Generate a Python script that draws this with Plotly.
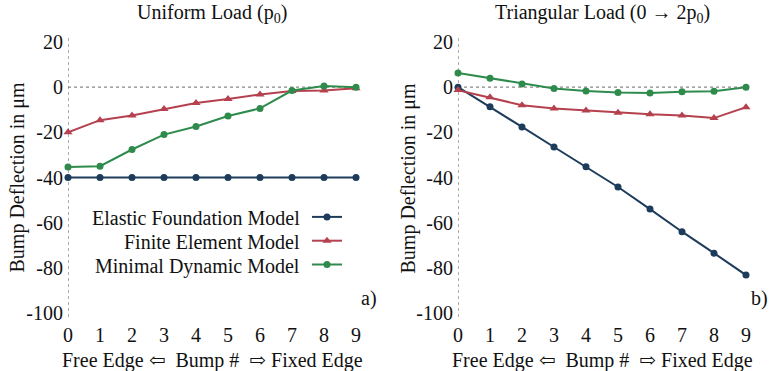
import plotly.graph_objects as go

bumps = [0, 1, 2, 3, 4, 5, 6, 7, 8, 9]

# Panel a) Uniform load
uni_efm = [-40, -40, -40, -40, -40, -40, -40, -40, -40, -40]
uni_fem = [-20, -14.6, -12.5, -9.7, -7, -5.2, -3.2, -1.7, -1.5, -0.5]
uni_mdm = [-35.3, -35, -27.6, -21, -17.4, -12.8, -9.4, -1.5, 0.5, 0]

# Panel b) Triangular load
tri_efm = [0, -8.7, -17.6, -26.5, -35.2, -44.2, -54, -64, -73.5, -83.2]
tri_fem = [-1.3, -4.5, -8, -9.4, -10.3, -11.3, -12, -12.5, -13.7, -8.9]
tri_mdm = [6.3, 4, 1.4, -0.6, -1.7, -2.4, -2.6, -2, -1.8, 0]

series_names = ["Elastic Foundation Model", "Finite Element Model", "Minimal Dynamic Model"]
colors = ["#1d3c5c", "#b5404e", "#2e8b4c"]
symbols = ["circle", "triangle-up", "circle"]

y_ticks = [20, 0, -20, -40, -60, -80, -100]
y_tick_text = ["20", "0", "-20", "-40", "-60", "-80", "-100"]
x_ticks = bumps
x_tick_text = [str(b) for b in bumps]

titles = ["Uniform Load (p<sub>0</sub>)", "Triangular Load (0 \u2192 2p<sub>0</sub>)"]
x_title = "Free Edge \u21e6  Bump #  \u21e8 Fixed Edge"
y_title = "Bump Deflection in \u03bcm"
panel_tags = ["a)", "b)"]

FONT = "'Liberation Serif', 'Times New Roman', Tinos, 'DejaVu Serif', serif"
FS = 20
W, H = 777, 371

fig = go.Figure()

panels = [(uni_efm, uni_fem, uni_mdm), (tri_efm, tri_fem, tri_mdm)]
for p, data in enumerate(panels):
    xa = "x" if p == 0 else "x2"
    ya = "y" if p == 0 else "y2"
    for i, vals in enumerate(data):
        fig.add_trace(go.Scatter(
            x=bumps, y=vals, xaxis=xa, yaxis=ya,
            mode="lines+markers",
            line=dict(color=colors[i], width=2),
            marker=dict(color=colors[i], size=7 if symbols[i] == "circle" else 8, symbol=symbols[i]),
            name="",
            showlegend=(p == 0),
            cliponaxis=False,
        ))

# Domains (pixels -> paper)
xdom1 = [68 / W, 356 / W]
xdom2 = [458 / W, 746 / W]
ydom = [1 - 313 / H, 1 - 42 / H]

axis_common = dict(showgrid=False, zeroline=False, showline=False, ticks="", automargin=False,
                   tickfont=dict(family=FONT, size=FS, color="#111"))

fig.update_layout(
    width=W, height=H,
    margin=dict(l=0, r=0, t=0, b=0, autoexpand=False),
    paper_bgcolor="white", plot_bgcolor="white",
    font=dict(family=FONT, size=FS, color="#111"),
    showlegend=True,
    legend=dict(x=307 / W, y=1 - 200 / H, xanchor="left", yanchor="top",
                bgcolor="rgba(0,0,0,0)", borderwidth=0,
                font=dict(family=FONT, size=16), tracegroupgap=0,
                itemwidth=30),
    xaxis=dict(domain=xdom1, range=[0, 9], anchor="y", tickvals=x_ticks, ticktext=x_tick_text,
               ticklabelstandoff=8, **axis_common),
    yaxis=dict(domain=ydom, range=[-100, 20], anchor="x", tickvals=y_ticks, ticktext=y_tick_text,
               ticklabelstandoff=4, **axis_common),
    xaxis2=dict(domain=xdom2, range=[0, 9], anchor="y2", tickvals=x_ticks, ticktext=x_tick_text,
                ticklabelstandoff=8, **axis_common),
    yaxis2=dict(domain=ydom, range=[-100, 20], anchor="x2", tickvals=y_ticks, ticktext=y_tick_text,
                ticklabelstandoff=4, **axis_common),
)

# Dotted reference lines (axis at x=0, zero line at y=0)
for p in range(2):
    xr = "x" if p == 0 else "x2"
    yr = "y" if p == 0 else "y2"
    fig.add_shape(type="line", xref=xr, yref=yr + " domain", x0=0, x1=0, y0=-0.015, y1=1.015,
                  line=dict(color="#777", width=1.2, dash="dot"), layer="below")
    fig.add_shape(type="line", xref=xr + " domain", yref=yr, x0=0, x1=1, y0=0, y1=0,
                  line=dict(color="#888", width=1.2, dash="dot"), layer="below")

# Panel titles and axis titles
ytitle_x = [17 / W, 408 / W]
for p, t in enumerate(titles):
    xr = "x domain" if p == 0 else "x2 domain"
    yr = "y domain" if p == 0 else "y2 domain"
    fig.add_annotation(text=t, xref=xr, yref="paper", x=0.5, y=1 - 14 / H,
                       showarrow=False, font=dict(family=FONT, size=FS, color="#111"),
                       xanchor="center", yanchor="middle")
    fig.add_annotation(text=x_title, xref=xr, yref="paper", x=0.5, y=1 - 360 / H,
                       showarrow=False, font=dict(family=FONT, size=FS, color="#111"),
                       xanchor="center", yanchor="middle")
    fig.add_annotation(text=y_title, xref="paper", yref=yr, x=ytitle_x[p], y=0.5,
                       textangle=-90, showarrow=False,
                       font=dict(family=FONT, size=FS, color="#111"),
                       xanchor="center", yanchor="middle")

# Panel tags
tag_x = [369 / W, 759 / W]
for p, t in enumerate(panel_tags):
    fig.add_annotation(text=t, xref="paper", yref="paper", x=tag_x[p], y=1 - 298 / H,
                       showarrow=False, font=dict(family=FONT, size=FS, color="#111"),
                       xanchor="center", yanchor="middle")

# Legend labels (right aligned, symbols to the right via legend)
label_rows = [218, 242, 266]
for i, name in enumerate(series_names):
    fig.add_annotation(text=name, xref="paper", yref="paper", x=302 / W, y=1 - label_rows[i] / H,
                       showarrow=False, font=dict(family=FONT, size=FS, color="#111"),
                       xanchor="right", yanchor="middle")

fig.write_html("out.html",
               config={"displayModeBar": False},
               post_script="document.body.style.margin='0';document.body.style.padding='0';")
